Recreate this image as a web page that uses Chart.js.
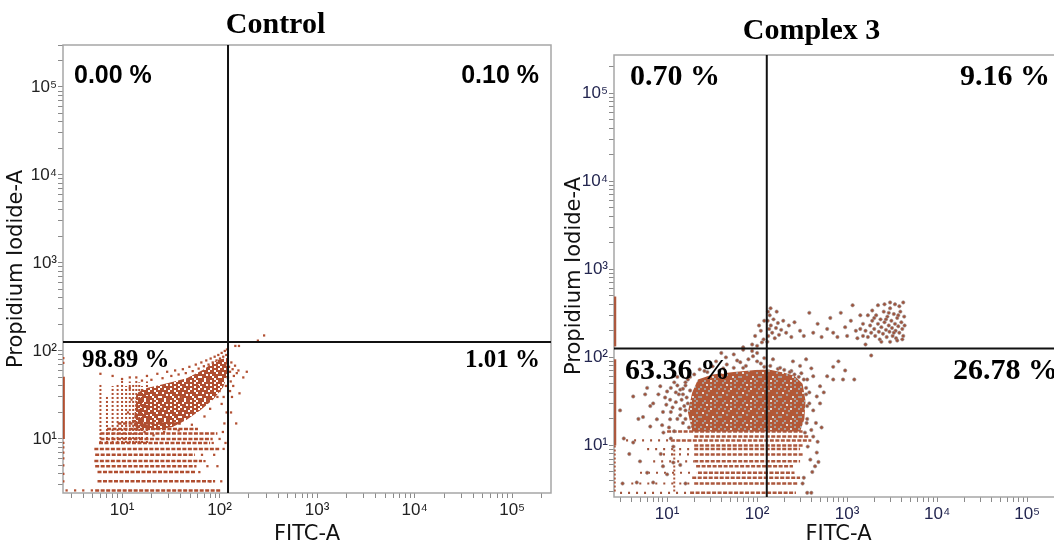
<!DOCTYPE html>
<html>
<head>
<meta charset="utf-8">
<title>Annexin V-FITC / PI</title>
<script src="https://cdn.jsdelivr.net/npm/chart.js@4.4.1/dist/chart.umd.min.js"></script>
<style>
  html, body { margin: 0; padding: 0; background: #fff; }
  body { width: 1054px; height: 545px; overflow: hidden; position: relative; }
  .panel { position: absolute; top: 0; height: 545px; }
  #ctlBox { left: 0; width: 554px; }
  #cpxBox { left: 560px; width: 582px; }
</style>
</head>
<body>
<div class="panel" id="ctlBox"><canvas id="ctlChart"></canvas></div>
<div class="panel" id="cpxBox"><canvas id="cpxChart"></canvas></div>
<script>
// shared log axis labels
const tickValues = [10, 100, 1000, 10000, 100000];
const tickLabels = ['10¹', '10²', '10³', '10⁴', '10⁵'];

// ---------- Control ----------
const ctlXRange = [2.48, 250000];
const ctlYRange = [2.43, 300000];
const ctlGate = [122, 126];   // FITC gate, PI gate
const ctlQuadrants = ['0.00 %', '0.10 %', '98.89 %', '1.01 %'];   // UL, UR, LL, LR
// events piled on the axis edge  [x, yFrom, yTo]
const ctlEdge = [[2.5, 10, 51]];
// banded low-PI rows  [y, xFrom, xTo]
const ctlRows = [
  [2.6, 5.3, 105], [3.3, 5.6, 90], [4.2, 5.6, 56], [4.9, 5.3, 58], [5.6, 5.2, 66],
  [6.6, 5.3, 56], [7.7, 5.2, 99], [9, 5.8, 80], [10, 6, 85], [11.5, 6, 95], [13, 7, 60], [15, 9, 40]
];
// banded low-FITC columns  [x, yFrom, yTo]
const ctlCols = [
  [6, 9, 43], [7, 9, 30], [8, 9, 40], [9, 9, 42], [10, 9, 47], [11, 9, 40],
  [12, 9, 45], [13, 9, 42], [14, 9, 47], [15, 9, 44], [16, 9, 40], [18, 9, 45]
];
// outline of the dense cloud  [x, y]
const ctlCore = [
  [13, 12.5], [14, 33], [18, 38], [29, 43], [46, 49], [68, 61], [94, 79], [119, 83],
  [125, 60], [109, 39], [86, 28], [63, 21], [46, 16.5], [33, 13.7], [23, 12.7]
];
// single events  [x, y]
const ctlDots = [
  [14, 50], [16, 46], [18, 52], [20, 47], [23, 55], [26, 49], [29, 58], [32, 52], [35, 60], [38, 54],
  [42, 62], [45, 56], [49, 66], [53, 59], [57, 70], [61, 63], [65, 74], [69, 67], [73, 78], [77, 70],
  [81, 82], [85, 74], [89, 86], [93, 78], [97, 90], [101, 82], [105, 95], [109, 86], [113, 100], [117, 90],
  [120, 80], [115, 70], [119, 104], [125, 66], [128, 58], [132, 74], [136, 62], [140, 52], [144, 68], [150, 56],
  [156, 60], [130, 45], [138, 40], [134, 30], [128, 35], [145, 114], [158, 114], [131, 20], [148, 15], [160, 33],
  [175, 50], [190, 58], [6, 55], [10, 48], [8, 52], [12, 50], [247, 131], [286, 150],
  [2.5, 83], [2.5, 73], [2.5, 9], [2.5, 8], [2.5, 7], [2.5, 6], [2.5, 5], [2.5, 4], [2.5, 3.3],
  [2.7, 2.6], [3.3, 2.6], [4, 2.6], [4.9, 2.6],
  [110, 7.7], [104, 3.3], [95, 4.9], [88, 6.6], [100, 10], [108, 12], [115, 9], [112, 15], [118, 20],
  [105, 25], [110, 30], [116, 40], [100, 35], [62, 4.2], [70, 5.6], [80, 3.3], [66, 6.6], [75, 4.9], [85, 9],
  [12, 38], [12.5, 28], [11.5, 20], [13, 16], [17, 12], [21, 11], [27, 12], [38, 12.5], [52, 14.5], [70, 18],
  [80, 22], [95, 30], [102, 44], [122, 50], [90, 52], [60, 40], [40, 30], [25, 22]
];

// ---------- Complex 3 ----------
const cpxXRange = [2.57, 250000];
const cpxYRange = [2.6, 270000];
const cpxGate = [128, 126];
const cpxQuadrants = ['0.70 %', '9.16 %', '63.36 %', '26.78 %'];
const cpxEdge = [[2.62, 133, 490], [2.62, 10, 95]];
const cpxRows = [
  [2.9, 18, 270], [3.7, 20, 280], [4.3, 19, 300], [4.9, 22, 260], [5.8, 21, 250], [6.6, 20, 300],
  [7.9, 20, 320], [9.1, 20, 300], [10, 20, 320], [11.4, 11, 400], [12.6, 20, 380], [14.4, 10, 320]
];
const cpxSparseRows = [
  [2.9, 3, 18], [3.7, 4, 19], [4.9, 5, 21], [6.6, 7, 20], [7.9, 9, 20], [9.1, 6, 20], [11.4, 3.5, 11]
];
const cpxCols = [[2.62, 3, 10], [12, 3, 10]];
const cpxCore = [
  [19, 14.4], [17, 24], [19, 40], [22, 56], [32, 64], [55, 68], [95, 72], [135, 73],
  [200, 67], [260, 62], [320, 50], [345, 32], [335, 20], [300, 14.4]
];
const cpxLowDots = [
  [4.2, 36], [5.7, 38], [6.5, 28], [8.4, 47], [10, 41], [10.8, 33], [12, 52], [14, 43], [17, 56], [15, 38],
  [4.2, 10.8], [5.4, 21], [6.5, 16.4], [7.7, 19.8], [10.8, 19.8], [9.1, 14], [3.3, 12], [3, 25], [7, 30], [9, 24],
  [11.5, 27], [13, 20], [14.5, 33], [16, 25], [12, 14.5], [8, 38], [6, 45], [4.8, 20], [13, 60], [11, 12],
  [15, 18], [17, 30], [16, 48], [11, 45], [9.5, 35], [13.5, 38], [8.8, 17], [18, 42], [14, 26], [12.5, 31],
  [6, 4.9], [4.6, 3.8], [10, 4.7], [7, 3.8], [11.7, 9.7], [11.7, 6.4], [3.2, 3.7], [5, 6.6], [8.5, 8], [14, 6],
  [16, 3.7], [9, 5.8], [3.8, 8],
  [23, 73], [32, 79], [46, 83], [65, 88], [90, 103], [28, 68], [38, 70], [55, 76], [75, 80], [110, 85],
  [140, 80], [170, 74], [200, 72], [240, 70], [260, 64], [150, 95], [120, 98], [100, 90], [80, 95], [60, 92],
  [45, 100], [35, 90], [70, 122], [88, 118], [100, 112], [55, 108], [40, 112],
  [360, 56], [420, 61], [500, 47], [600, 61], [700, 56], [900, 56], [460, 36], [360, 20], [420, 12.6], [460, 8.3],
  [440, 5.8], [365, 9.7], [390, 6.9], [380, 30], [420, 25], [500, 30], [350, 45], [550, 40], [400, 15], [450, 18],
  [520, 16], [470, 11], [480, 6.5], [410, 5], [330, 4.3], [320, 3.7], [360, 2.9], [400, 2.9], [950, 71], [1200, 56],
  [1850, 105], [300, 80], [400, 75], [250, 90], [350, 95], [700, 78], [800, 90],
  [16, 52], [15, 44], [16.5, 35], [15.5, 28], [16, 20], [17.5, 16], [14, 22], [13, 48], [18, 60], [20, 64],
  [26, 70], [42, 75], [70, 76], [120, 78], [180, 76], [230, 68], [290, 60], [330, 56], [350, 38], [360, 28],
  [355, 18], [340, 14], [380, 40], [310, 66], [12.5, 40], [11, 24], [9.8, 29], [10.5, 16]
];
const cpxHighDots = [
  [70, 130], [88, 140], [113, 148], [100, 135], [118, 160], [95, 175], [110, 200], [120, 260], [105, 230],
  [130, 150], [133, 175], [136, 210], [131, 260], [138, 300], [142, 230], [147, 190], [152, 270], [157, 165], [162, 215],
  [170, 245], [175, 180], [185, 205], [195, 260], [210, 190], [225, 230], [240, 170], [132, 330], [141, 360], [165, 330],
  [260, 250], [300, 200], [330, 175], [380, 320], [420, 190], [470, 240], [520, 170], [600, 210], [650, 280], [700, 190],
  [780, 170], [850, 320], [950, 220], [1000, 175], [1100, 260], [1150, 390], [1250, 200], [1300, 165], [1400, 300], [1500, 240],
  [1500, 175], [1600, 140],
  [1600, 200], [1700, 170], [1800, 230], [1850, 190], [1900, 260], [2000, 210], [2050, 175], [2100, 300], [2200, 240], [2250, 195],
  [2300, 160], [2350, 270], [2400, 220], [2500, 185], [2550, 330], [2600, 250], [2700, 205], [2750, 170], [2800, 290], [2900, 230],
  [2950, 195], [3000, 360], [3100, 260], [3150, 215], [3200, 175], [3300, 310], [3400, 240], [3450, 200], [3500, 165], [3600, 280],
  [3700, 225], [3800, 190], [3900, 330], [4000, 250], [4100, 210], [4200, 175], [4300, 290], [4350, 230], [2200, 390], [2600, 400],
  [3000, 420], [3400, 400], [3800, 380], [4200, 420], [1900, 340], [2400, 150], [3000, 150], [3600, 155], [4100, 160], [2000, 280],
  [2700, 270], [3300, 190], [1700, 300], [1400, 210], [3700, 300], [2900, 320]
];

// speckle tiles for the dense clouds
const ctlTile = [
  'bbwbbwbbwb', 'bwbbbbbwbb', 'bbbwbwbbbw', 'wbbbbbbwbb', 'bbwbbwbbbw',
  'bbbbwbbwbb', 'bwbbbbbbwb', 'bbbwbwbbbb', 'wbbbbbwbbw', 'bbwbbbbwbb'
];
const cpxTile = [
  'bbgbbwbbgb', 'bgbbbbbgbb', 'bbbwbgbbbb', 'gbbbbbbgbb', 'bbgbbwbbbg',
  'bbbbgbbbbb', 'bwbbbbbbgb', 'bbbgbbbbbb', 'gbbbbbwbbg', 'bbbbbbbgbb'
];

Chart.defaults.font.family = '"Liberation Sans", Arial, sans-serif';

const xy = (x, y) => ({ x, y });

function makePattern(ctx, rows, colors, cell) {
  const c = document.createElement('canvas');
  c.width = rows[0].length * cell;
  c.height = rows.length * cell;
  const g = c.getContext('2d');
  rows.forEach((r, j) => {
    [...r].forEach((ch, i) => {
      g.fillStyle = colors[ch];
      g.fillRect(i * cell, j * cell, cell, cell);
    });
  });
  return ctx.createPattern(c, 'repeat');
}

function logTicks(scale) {
  const t = [];
  for (let e = 0; e <= 5; e++) {
    for (let m = 1; m <= 9; m++) {
      const v = m * Math.pow(10, e);
      if (v >= scale.min && v <= scale.max) t.push({ value: v });
    }
  }
  scale.ticks = t;
}

function tickText(v) {
  const i = tickValues.indexOf(v);
  return i >= 0 ? tickLabels[i] : '';
}

const framePlugin = {
  id: 'frame',
  beforeDatasetsDraw(chart) {
    const { ctx, chartArea: a } = chart;
    ctx.save();
    ctx.strokeStyle = '#a6a6a6';
    ctx.lineWidth = 1.5;
    ctx.strokeRect(a.left, a.top, a.right - a.left, a.bottom - a.top);
    ctx.restore();
  }
};

const quadPlugin = {
  id: 'quadText',
  afterDatasetsDraw(chart, args, opts) {
    const { ctx, chartArea: a } = chart;
    const gy = chart.scales.y.getPixelForValue(opts.gateY);
    ctx.save();
    ctx.fillStyle = '#000';
    ctx.textBaseline = 'alphabetic';
    opts.items.forEach(it => {
      ctx.font = it.font;
      ctx.textAlign = it.side;
      const x = it.side === 'left' ? a.left + it.dx : a.right - it.dx;
      const y = it.ref === 'top' ? a.top + it.dy : gy + it.dy;
      ctx.fillText(it.text, x, y);
    });
    ctx.restore();
  }
};

function segSets(list, vertical, color, width, dash, order) {
  return list.map(s => ({
    data: vertical ? [xy(s[0], s[1]), xy(s[0], s[2])] : [xy(s[1], s[0]), xy(s[2], s[0])],
    showLine: true, borderColor: color, borderWidth: width, borderDash: dash,
    pointRadius: 0, fill: false, order
  }));
}

function buildChart(id, p) {
  const canvas = document.getElementById(id);
  const ctx = canvas.getContext('2d');
  const pattern = makePattern(ctx, p.tile, p.tileColors, 2);
  const datasets = [
    // quadrant gates
    { data: [xy(p.gate[0], p.yRange[0]), xy(p.gate[0], p.yRange[1])], showLine: true, borderColor: '#111', borderWidth: 2, pointRadius: 0, order: 0 },
    { data: [xy(p.xRange[0], p.gate[1]), xy(p.xRange[1], p.gate[1])], showLine: true, borderColor: '#111', borderWidth: 2, pointRadius: 0, order: 0 },
    // dense cloud
    { data: p.core.map(c => xy(c[0], c[1])), showLine: true, fill: 'shape', backgroundColor: pattern, borderWidth: 0, pointRadius: 0, order: 4 }
  ];
  p.dots.forEach(d => datasets.push({
    data: d.map(c => xy(c[0], c[1])), pointStyle: p.pointStyle, pointRadius: p.pointRadius,
    backgroundColor: p.dotColor, borderColor: p.dotBorder, borderWidth: p.dotBorderWidth, order: 1
  }));
  datasets.push(...segSets(p.edge, true, p.rowColor, 3, [], 2));
  datasets.push(...segSets(p.rows, false, p.rowColor, 2.5, [4, 1.5], 3));
  datasets.push(...segSets(p.sparseRows, false, p.dotColor, 2.2, [2, 6], 3));
  datasets.push(...segSets(p.cols, true, p.rowColor, 2, [2, 2], 3));

  const axisTitleFont = { family: '"DejaVu Sans", Verdana, sans-serif', size: 21 };
  const tickFont = { family: '"Liberation Sans", Arial, sans-serif', size: 17 };
  const grid = { display: true, drawOnChartArea: false, drawTicks: true, tickLength: 5, color: '#8a8a8a', tickColor: '#8a8a8a', lineWidth: 1 };

  return new Chart(ctx, {
    type: 'scatter',
    data: { datasets },
    options: {
      responsive: true,
      maintainAspectRatio: false,
      animation: false,
      events: [],
      layout: { autoPadding: false, padding: { left: 0, right: p.padRight, top: 0, bottom: 0 } },
      plugins: {
        legend: { display: false },
        tooltip: { enabled: false },
        title: {
          display: true, text: p.title, color: '#000',
          font: { family: '"Liberation Serif", "Times New Roman", serif', size: 30, weight: 'bold' },
          padding: { top: p.titleTop, bottom: p.titleBottom }
        },
        quadText: { gateY: p.gate[1], items: p.labels }
      },
      scales: {
        x: {
          type: 'logarithmic', position: 'bottom', min: p.xRange[0], max: p.xRange[1],
          afterBuildTicks: logTicks,
          afterFit: s => { s.height = p.xAxisHeight; },
          grid, border: { display: false },
          ticks: { callback: tickText, autoSkip: false, maxRotation: 0, padding: 2, color: p.tickColor, font: tickFont },
          title: { display: true, text: 'FITC-A', color: '#111', font: axisTitleFont, padding: { top: 0, bottom: -2 } }
        },
        y: {
          type: 'logarithmic', position: 'left', min: p.yRange[0], max: p.yRange[1],
          afterBuildTicks: logTicks,
          afterFit: s => { s.width = p.yAxisWidth; },
          grid, border: { display: false },
          ticks: { callback: tickText, autoSkip: false, padding: 1, color: p.tickColor, font: tickFont },
          title: { display: true, text: 'Propidium Iodide-A', color: '#111', font: axisTitleFont, padding: { top: p.yTitlePad, bottom: 0 } }
        }
      }
    },
    plugins: [framePlugin, quadPlugin]
  });
}

const sansBold = 'bold 25px "Liberation Sans", Arial, sans-serif';
const serifMid = 'bold 25px "Liberation Serif", "Times New Roman", serif';
const serifBig = 'bold 30px "Liberation Serif", "Times New Roman", serif';

buildChart('ctlChart', {
  title: 'Control', titleTop: 7, titleBottom: 2, padRight: 3,
  xAxisHeight: 52, yAxisWidth: 63, yTitlePad: 4,
  xRange: ctlXRange, yRange: ctlYRange, gate: ctlGate,
  core: ctlCore, dots: [ctlDots], edge: ctlEdge, rows: ctlRows, sparseRows: [], cols: ctlCols,
  tile: ctlTile, tileColors: { b: 'rgb(176,78,48)', w: '#ffffff' },
  pointStyle: 'rect', pointRadius: 1.6, dotColor: 'rgb(178,80,50)', dotBorder: 'rgb(178,80,50)', dotBorderWidth: 0,
  rowColor: 'rgb(176,78,48)', tickColor: '#222',
  labels: [
    { text: ctlQuadrants[0], font: sansBold, side: 'left', dx: 11, ref: 'top', dy: 38 },
    { text: ctlQuadrants[1], font: sansBold, side: 'right', dx: 12, ref: 'top', dy: 38 },
    { text: ctlQuadrants[2], font: serifMid, side: 'left', dx: 19, ref: 'gate', dy: 25 },
    { text: ctlQuadrants[3], font: serifMid, side: 'right', dx: 11, ref: 'gate', dy: 25 }
  ]
});

buildChart('cpxChart', {
  title: 'Complex 3', titleTop: 13, titleBottom: 6, padRight: 79,
  xAxisHeight: 48, yAxisWidth: 54, yTitlePad: 2,
  xRange: cpxXRange, yRange: cpxYRange, gate: cpxGate,
  core: cpxCore, dots: [cpxLowDots, cpxHighDots], edge: cpxEdge, rows: cpxRows, sparseRows: cpxSparseRows, cols: cpxCols,
  tile: cpxTile, tileColors: { b: 'rgb(178,88,55)', g: 'rgb(168,158,154)', w: 'rgb(225,220,216)' },
  pointStyle: 'circle', pointRadius: 1.7, dotColor: 'rgb(160,82,58)', dotBorder: 'rgba(150,145,145,0.85)', dotBorderWidth: 0.7,
  rowColor: 'rgb(172,88,62)', tickColor: '#232650',
  labels: [
    { text: cpxQuadrants[0], font: serifBig, side: 'left', dx: 16, ref: 'top', dy: 30 },
    { text: cpxQuadrants[1], font: serifBig, side: 'right', dx: 13, ref: 'top', dy: 30 },
    { text: cpxQuadrants[2], font: serifBig, side: 'left', dx: 11, ref: 'gate', dy: 31 },
    { text: cpxQuadrants[3], font: serifBig, side: 'right', dx: 5, ref: 'gate', dy: 31 }
  ]
});
</script>
</body>
</html>
